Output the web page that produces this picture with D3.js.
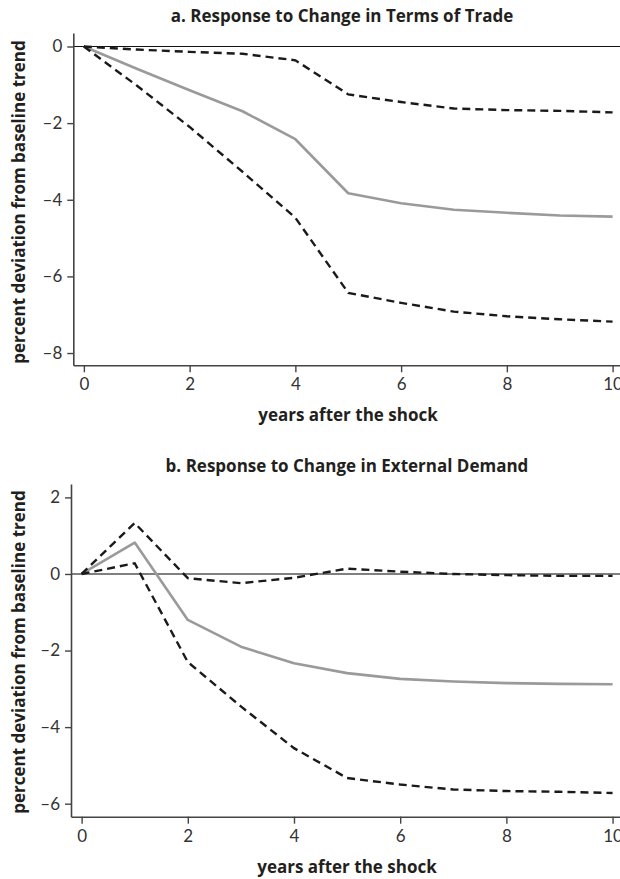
<!DOCTYPE html>
<html>
<head>
<meta charset="utf-8">
<script src="https://cdn.jsdelivr.net/npm/d3@7"></script>
<style>
  html, body { margin: 0; padding: 0; background: #fff; }
  svg { display: block; }
  text { font-family: Lato, "Open Sans", sans-serif; }
  .bold { font-family: "Open Sans", Lato, sans-serif; font-weight: 700; }
</style>
</head>
<body>
<svg id="chart" width="620" height="879"></svg>
<script>
// ---- data ----
const years = [0, 1, 2, 3, 4, 5, 6, 7, 8, 9, 10];
const xTickValues = [0, 2, 4, 6, 8, 10];

const titleA = "a. Response to Change in Terms of Trade";
const upperA  = [0, -0.08, -0.14, -0.19, -0.36, -1.25, -1.45, -1.62, -1.66, -1.68, -1.72];
const middleA = [0, -0.58, -1.14, -1.69, -2.42, -3.83, -4.09, -4.26, -4.34, -4.41, -4.44];
const lowerA  = [0, -1.02, -2.10, -3.27, -4.47, -6.43, -6.69, -6.92, -7.04, -7.12, -7.18];
const yTicksA = [0, -2, -4, -6, -8];

const titleB = "b. Response to Change in External Demand";
const upperB  = [0, 1.33, -0.11, -0.24, -0.10, 0.14, 0.06, 0.00, -0.03, -0.05, -0.05];
const middleB = [0, 0.82, -1.20, -1.90, -2.33, -2.59, -2.74, -2.81, -2.85, -2.87, -2.88];
const lowerB  = [0, 0.28, -2.30, -3.46, -4.55, -5.33, -5.50, -5.63, -5.67, -5.69, -5.72];
const yTicksB = [2, 0, -2, -4, -6];

const xLabel = "years after the shock";
const yLabel = "percent deviation from baseline trend";

// ---- layout ----
const svg = d3.select("#chart");
const fmt = d => (d < 0 ? "\u2013" + Math.abs(d) : String(d));

function panel(cfg) {
  const g = svg.append("g");
  const x = d3.scaleLinear().domain(cfg.xDomain).range([cfg.left, 620]);
  const y = d3.scaleLinear().domain(cfg.yDomain).range([cfg.top, cfg.bottom]);

  // title
  g.append("text").attr("class", "bold")
    .attr("x", cfg.titleX).attr("y", cfg.titleY)
    .attr("text-anchor", "middle")
    .attr("font-size", 17).attr("fill", "#231f20")
    .text(cfg.title);

  // zero reference line
  g.append("line")
    .attr("x1", x.range()[0]).attr("x2", 620)
    .attr("y1", y(0)).attr("y2", y(0))
    .attr("stroke", cfg.zeroColor).attr("stroke-width", cfg.zeroWidth);

  // axes
  const yAxis = d3.axisLeft(y).tickValues(cfg.yTicks).tickFormat(fmt)
    .tickSizeOuter(0).tickSizeInner(6).tickPadding(5);
  const xAxis = d3.axisBottom(x).tickValues(xTickValues).tickFormat(fmt)
    .tickSizeOuter(0).tickSizeInner(7).tickPadding(6);

  const ya = g.append("g").attr("transform", `translate(${cfg.left},0)`).call(yAxis);
  const xa = g.append("g").attr("transform", `translate(0,${cfg.bottom})`).call(xAxis);
  [ya, xa].forEach(a => {
    a.select(".domain").attr("stroke", "#444").attr("stroke-width", 1.6);
    a.selectAll(".tick line").attr("stroke", "#444").attr("stroke-width", 1.4);
    a.selectAll(".tick text").attr("font-size", 17).attr("fill", "#333")
      .attr("font-family", "Lato, 'Open Sans', sans-serif");
  });

  // axis titles
  g.append("text").attr("class", "bold")
    .attr("x", cfg.xLabelX).attr("y", cfg.xLabelY)
    .attr("text-anchor", "middle")
    .attr("font-size", 17).attr("fill", "#231f20")
    .text(xLabel);
  g.append("text").attr("class", "bold")
    .attr("transform", `translate(${cfg.yLabelX},${cfg.yLabelY}) rotate(-90)`)
    .attr("text-anchor", "middle")
    .attr("font-size", 17).attr("fill", "#231f20")
    .text(yLabel);

  const line = d3.line().x((d, i) => x(years[i])).y(d => y(d));

  g.append("path").datum(cfg.middle).attr("d", line)
    .attr("fill", "none").attr("stroke", "#9a9a9a").attr("stroke-width", 2.6)
    .attr("stroke-linejoin", "round");
  [cfg.upper, cfg.lower].forEach(s => {
    g.append("path").datum(s).attr("d", line)
      .attr("fill", "none").attr("stroke", "#1a1a1a").attr("stroke-width", 2.4)
      .attr("stroke-dasharray", "8,5");
  });
}

panel({
  title: titleA, titleX: 342, titleY: 22,
  left: 73.3, top: 33, bottom: 365.3,
  xDomain: [-0.2, 10.14], yDomain: [0.352, -8.32],
  yTicks: yTicksA, upper: upperA, middle: middleA, lower: lowerA,
  zeroColor: "#111", zeroWidth: 1.1,
  xLabelX: 348, xLabelY: 421, yLabelX: 25, yLabelY: 202
});

panel({
  title: titleB, titleX: 347, titleY: 472,
  left: 71, top: 484, bottom: 816.7,
  xDomain: [-0.2, 10.14], yDomain: [2.35, -6.34],
  yTicks: yTicksB, upper: upperB, middle: middleB, lower: lowerB,
  zeroColor: "#555", zeroWidth: 1.6,
  xLabelX: 347, xLabelY: 873, yLabelX: 25, yLabelY: 652
});
</script>
</body>
</html>
